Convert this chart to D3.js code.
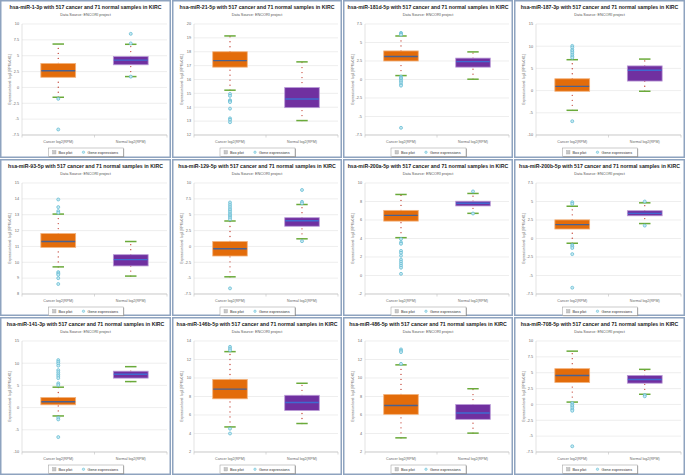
<!DOCTYPE html>
<html><head><meta charset="utf-8">
<script src="https://cdn.jsdelivr.net/npm/d3@7"></script>
<style>html,body{margin:0;padding:0;background:#fff}svg{display:block;font-family:"Liberation Sans",Arial,sans-serif}</style>
</head><body><svg id="c" width="685" height="475"></svg>
<script>
const mirnas = ["hsa-miR-1-3p","hsa-miR-21-5p","hsa-miR-181d-5p","hsa-miR-187-3p",
  "hsa-miR-93-5p","hsa-miR-129-5p","hsa-miR-200a-5p","hsa-miR-200b-5p",
  "hsa-miR-141-3p","hsa-miR-146b-5p","hsa-miR-486-5p","hsa-miR-708-5p"];
const categories = ["Cancer log2(RPM)","Normal log2(RPM)"];
const yTicks = [
  [-7.5,-5,-2.5,0,2.5,5,7.5,10],
  [12,13,14,15,16,17,18,19,20],
  [-7.5,-5,-2.5,0,2.5,5,7.5],
  [-10,-5,0,5,10,15],
  [8,9,10,11,12,13,14,15],
  [-7.5,-5,-2.5,0,2.5,5,7.5,10],
  [-2,0,2,4,6,8,10],
  [-7.5,-5,-2.5,0,2.5,5,7.5],
  [-10,-5,0,5,10,15],
  [2,4,6,8,10,12,14],
  [2,4,6,8,10,12,14],
  [-7.5,-5,-2.5,0,2.5,5,7.5,10]
];
// [whiskerLow, q1, median, q3, whiskerHigh]
const cancerStats = [
  [-1.55,1.6,2.64,3.78,6.84],
  [15.23,16.89,17.36,18.0,19.14],
  [0.53,2.5,3.11,3.86,5.88],
  [-4.44,-0.15,0.96,2.67,6.96],
  [9.71,10.94,11.31,11.81,13.04],
  [-4.79,-1.51,-0.36,0.78,4.01],
  [4.09,5.88,6.5,7.04,8.76],
  [-0.64,1.28,1.88,2.52,4.36],
  [-1.88,0.63,1.33,2.27,4.6],
  [4.71,7.75,8.8,9.84,12.85],
  [3.53,6.07,7.02,8.22,11.42],
  [0.37,3.46,4.57,5.64,8.4]
];
const normalStats = [
  [1.71,3.57,4.3,4.87,6.8],
  [13.04,13.97,14.6,15.42,17.27],
  [0.04,1.67,2.41,2.89,3.73],
  [-0.15,2.15,4.6,5.56,7.1],
  [9.13,9.77,10.17,10.48,11.31],
  [1.2,3.18,4.06,4.53,6.61],
  [6.72,7.52,7.81,8.03,8.87],
  [2.02,3.07,3.39,3.76,4.82],
  [5.86,6.64,7.5,8.2,9.22],
  [5.08,6.49,7.35,8.13,9.43],
  [4.04,5.53,6.22,7.13,8.84],
  [1.6,3.35,3.94,4.57,5.53]
];
const cancerOutliers = [
  [-1.8,-6.63],
  [14.96,14.82,14.51,14.44,14.37,13.9,13.2,13.09,12.92],
  [6.3,6.2,6.05,0.39,0.22,0.04,-0.18,-0.39,-0.66,-0.83,-6.53],
  [10.07,9.7,9.19,8.89,8.5,8.07,7.7,7.4,-6.89],
  [13.96,13.48,13.23,13.12,9.38,9.29,9.21,9.0,8.63],
  [6.93,6.6,6.3,6.0,5.73,5.47,5.2,4.95,4.74,4.53,4.27,-6.61],
  [3.94,3.58,3.43,2.66,2.45,2.15,1.72,1.5,1.28,1.06,0.84,0.18],
  [4.9,4.68,-0.87,-1.06,-1.28,-2.11,-6.65],
  [10.7,10.3,9.92,9.45,8.44,7.97,7.5,7.1,6.64,5.47,5.08,-2.27,-2.66,-6.64],
  [13.37,13.18,13.0,4.52,4.0],
  [13.09,12.95,12.8,11.53],
  [0.21,-0.05,-0.27,-0.53,-0.8,-1.0,-6.6]
];
const normalOutliers = [
  [8.45,6.94,1.7],
  [],
  [],
  [],
  [],
  [8.9,7.03,6.8,0.83],
  [9.09,6.7],
  [5.0,1.74],
  [],
  [],
  [],
  [1.49,1.28]
];
const cancerCount = 517, normalCount = 71, project = "KIRC";

const svg = d3.select("#c");
svg.append("rect").attr("width",685).attr("height",475).attr("fill","#fff");
const colX = [0,172,343,514], colW = [171,170,170,171];
const rowY = [0,159,317], rowH = [158,157,158];
const boxFill = ["#e36c0a","#7030a0"], boxStroke = ["#f3b27c","#b99ad6"], medColor = ["#4a6190","#3f6bd0"];

mirnas.forEach((name,i) => {
  const c = i % 4, r = Math.floor(i / 4);
  const w = colW[c], h = rowH[r];
  const g = svg.append("g").attr("transform",`translate(${colX[c]},${rowY[r]})`);
  g.append("rect").attr("x",0.75).attr("y",0.75).attr("width",w-1.5).attr("height",h-1.5)
    .attr("fill","#fff").attr("stroke","#8ea3bf").attr("stroke-width",1.5);
  g.append("text").attr("x",w/2).attr("y",9).attr("text-anchor","middle")
    .attr("font-size",5.2).attr("font-weight","bold").attr("fill","#1a1a1a")
    .text(`${name} with ${cancerCount} cancer and ${normalCount} normal samples in ${project}`);
  g.append("text").attr("x",w/2).attr("y",16).attr("text-anchor","middle")
    .attr("font-size",3.8).attr("fill","#555").text("Data Source: ENCORI project");

  const ticks = yTicks[i];
  const y = d3.scaleLinear().domain(d3.extent(ticks)).range([135,24]);
  const x = d3.scaleBand().domain(categories).range([22,w-4]);
  g.append("g").selectAll("line").data(ticks).join("line")
    .attr("x1",22).attr("x2",w-4).attr("y1",d=>y(d)).attr("y2",d=>y(d))
    .attr("stroke","#e2e2e2").attr("stroke-width",0.6);
  g.append("line").attr("x1",22).attr("x2",22).attr("y1",24).attr("y2",135).attr("stroke","#d0d0d0").attr("stroke-width",0.6);
  g.append("line").attr("x1",22).attr("x2",w-4).attr("y1",135).attr("y2",135).attr("stroke","#c0c0c0").attr("stroke-width",0.7);
  g.append("g").selectAll("line").data([22, x(categories[1]), w-4]).join("line")
    .attr("x1",d=>d).attr("x2",d=>d).attr("y1",135).attr("y2",137.5).attr("stroke","#c0c0c0").attr("stroke-width",0.6);
  g.append("g").selectAll("text").data(ticks).join("text")
    .attr("x",19).attr("y",d=>y(d)+1.3).attr("text-anchor","end")
    .attr("font-size",3.8).attr("fill","#666").text(d=>String(d));
  g.append("text").attr("transform",`translate(10.5,${(24+135)/2}) rotate(-90)`)
    .attr("text-anchor","middle").attr("font-size",3.3).attr("fill","#666")
    .text("Expression level: log2 [RPM+0.01]");
  g.append("g").selectAll("text").data(categories).join("text")
    .attr("x",d=>x(d)+x.bandwidth()/2).attr("y",142.5).attr("text-anchor","middle")
    .attr("font-size",3.6).attr("fill","#666").text(d=>d);

  [cancerStats[i], normalStats[i]].forEach((s,k) => {
    const cx = x(categories[k]) + x.bandwidth()/2;
    const bw = x.bandwidth()*0.48, cw = bw*0.33;
    [[s[0],s[1]],[s[3],s[4]]].forEach(([a,b]) => {
      g.append("line").attr("x1",cx).attr("x2",cx).attr("y1",y(a)).attr("y2",y(b))
        .attr("stroke","#c0392b").attr("stroke-width",1.3).attr("stroke-linecap","round")
        .attr("stroke-dasharray","0,5");
    });
    g.append("rect").attr("x",cx-bw/2).attr("y",y(s[3])).attr("width",bw).attr("height",y(s[1])-y(s[3]))
      .attr("fill",boxFill[k]).attr("stroke",boxStroke[k]).attr("stroke-width",0.8);
    g.append("line").attr("x1",cx-bw/2+0.5).attr("x2",cx+bw/2-0.5).attr("y1",y(s[2])).attr("y2",y(s[2]))
      .attr("stroke",medColor[k]).attr("stroke-width",1.4);
    [s[0],s[4]].forEach(v => {
      g.append("line").attr("x1",cx-cw/2).attr("x2",cx+cw/2).attr("y1",y(v)).attr("y2",y(v))
        .attr("stroke","#6aaa3a").attr("stroke-width",1.5);
    });
    const outs = k === 0 ? cancerOutliers[i] : normalOutliers[i];
    g.append("g").selectAll("circle").data(outs).join("circle")
      .attr("cx",cx).attr("cy",d=>y(d)).attr("r",1.5)
      .attr("fill","#c6e9f2").attr("stroke","#5bb8d0").attr("stroke-width",0.7);
  });

  const lx = w/2 - 37, ly = 148;
  const lg = g.append("g").attr("transform",`translate(${lx},${ly})`);
  lg.append("rect").attr("x",0.6).attr("y",0.6).attr("width",75).attr("height",8.5).attr("fill","#777");
  lg.append("rect").attr("width",75).attr("height",8.5).attr("fill","#fff").attr("stroke","#999").attr("stroke-width",0.5);
  lg.append("rect").attr("x",4).attr("y",2.5).attr("width",3.5).attr("height",3.5).attr("fill","#c8c8c8").attr("stroke","#999").attr("stroke-width",0.3);
  lg.append("text").attr("x",10).attr("y",5.7).attr("font-size",3.8).attr("fill","#333").text("Box plot");
  lg.append("circle").attr("cx",35).attr("cy",4.25).attr("r",1.2).attr("fill","#c6e9f2").attr("stroke","#5bb8d0").attr("stroke-width",0.5);
  lg.append("text").attr("x",39).attr("y",5.7).attr("font-size",3.8).attr("fill","#333").text("Gene expressions");
});
</script></body></html>
